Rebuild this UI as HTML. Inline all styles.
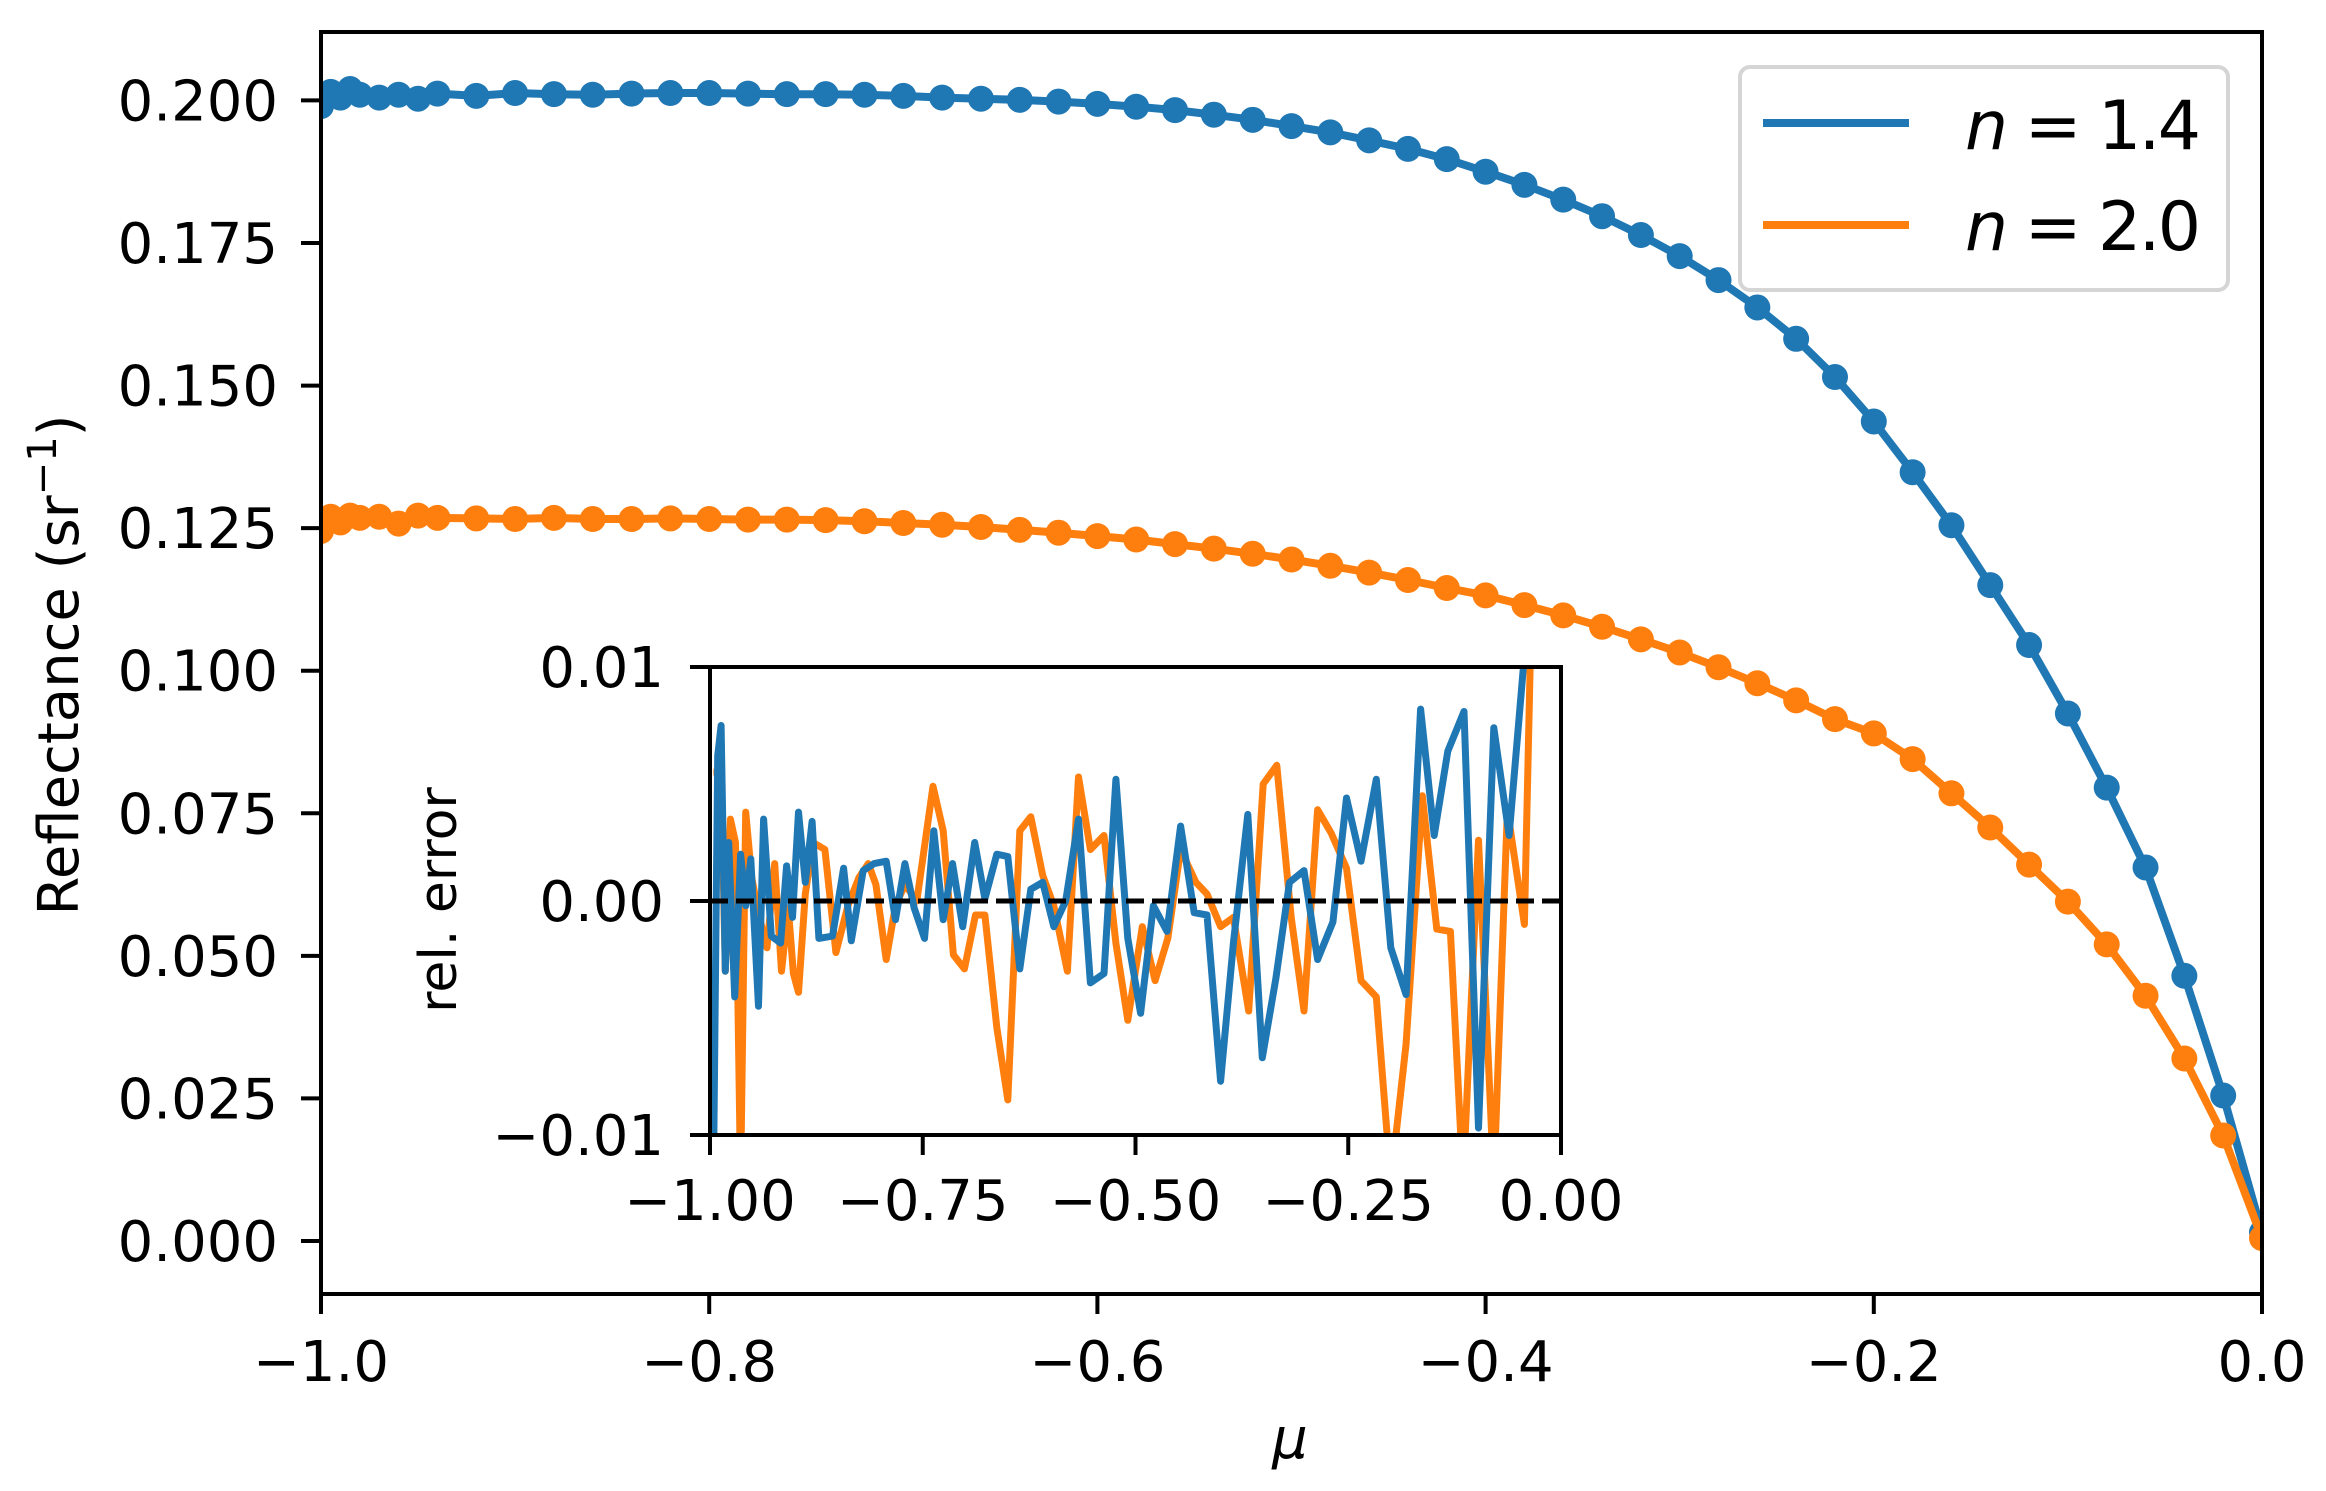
<!DOCTYPE html>
<html><head><meta charset="utf-8"><style>
html,body{margin:0;padding:0;background:#fff;}
svg{display:block;font-family:"DejaVu Sans","Liberation Sans",sans-serif;}
</style></head><body>
<svg id="chart" width="2326" height="1491" viewBox="0 0 2326 1491" xmlns="http://www.w3.org/2000/svg">
<rect width="2326" height="1491" fill="#fff"/>
<g id="main"></g>
<g id="inset"></g>
</svg>
<script>
// ---- main chart data ----
const mu = [-1.000,-0.998,-0.995,-0.99,-0.985,-0.98,-0.97,-0.96,-0.95,-0.94,-0.92,-0.90,-0.88,-0.86,-0.84,-0.82,-0.80,-0.78,-0.76,-0.74,-0.72,-0.70,-0.68,-0.66,-0.64,-0.62,-0.60,-0.58,-0.56,-0.54,-0.52,-0.50,-0.48,-0.46,-0.44,-0.42,-0.40,-0.38,-0.36,-0.34,-0.32,-0.30,-0.28,-0.26,-0.24,-0.22,-0.20,-0.18,-0.16,-0.14,-0.12,-0.10,-0.08,-0.06,-0.04,-0.02,0.0];
const reflN14 = [0.199,0.201,0.2015,0.2005,0.202,0.201,0.2005,0.201,0.2003,0.2012,0.2008,0.2013,0.2011,0.2010,0.2012,0.2013,0.2013,0.2012,0.2011,0.2011,0.2010,0.2008,0.2005,0.2003,0.2001,0.1998,0.1994,0.1989,0.1983,0.1975,0.1966,0.1955,0.1944,0.1930,0.1915,0.1897,0.1875,0.1852,0.1826,0.1797,0.1764,0.1727,0.1685,0.1637,0.1582,0.1515,0.1437,0.1348,0.1255,0.1150,0.1045,0.0925,0.0795,0.0655,0.0465,0.0255,0.0015];
const reflN20 = [0.1245,0.1265,0.127,0.126,0.1272,0.1268,0.127,0.1258,0.1272,0.1268,0.1267,0.1266,0.1268,0.1266,0.1266,0.1267,0.1266,0.1265,0.1265,0.1264,0.1262,0.1259,0.1256,0.1252,0.1247,0.1242,0.1236,0.1230,0.1222,0.1214,0.1205,0.1195,0.1184,0.1172,0.1159,0.1145,0.1132,0.1115,0.1097,0.1077,0.1055,0.1032,0.1006,0.0978,0.0948,0.0915,0.0890,0.0845,0.0785,0.0725,0.0660,0.0595,0.0520,0.0430,0.0320,0.0185,0.0005];
const yTicks = [0.000,0.025,0.050,0.075,0.100,0.125,0.150,0.175,0.200];
const yTickLabels = ["0.000","0.025","0.050","0.075","0.100","0.125","0.150","0.175","0.200"];
const xTicks = [-1.0,-0.8,-0.6,-0.4,-0.2,0.0];
const xTickLabels = ["\u22121.0","\u22120.8","\u22120.6","\u22120.4","\u22120.2","0.0"];
// ---- inset data (relative error, units of 1e-3) ----
const errMuN14 = [-1.0,-0.996,-0.991,-0.987,-0.982,-0.978,-0.971,-0.964,-0.958,-0.952,-0.943,-0.937,-0.928,-0.917,-0.910,-0.903,-0.896,-0.888,-0.880,-0.872,-0.856,-0.843,-0.834,-0.820,-0.807,-0.793,-0.782,-0.771,-0.760,-0.748,-0.737,-0.726,-0.715,-0.703,-0.689,-0.677,-0.663,-0.650,-0.636,-0.623,-0.609,-0.596,-0.582,-0.567,-0.553,-0.537,-0.523,-0.509,-0.494,-0.479,-0.463,-0.447,-0.431,-0.416,-0.400,-0.385,-0.368,-0.351,-0.335,-0.319,-0.302,-0.286,-0.268,-0.252,-0.235,-0.217,-0.200,-0.182,-0.165,-0.149,-0.133,-0.114,-0.097,-0.079,-0.061,-0.043];
const errN14 = [-12,-12,6.2,7.5,-3.0,2.5,-4.1,2.0,-0.2,1.8,-4.5,3.5,-1.5,-1.8,1.5,-0.7,3.8,0.8,3.4,-1.6,-1.5,1.4,-1.7,1.3,1.6,1.7,-0.8,1.6,-0.3,-1.6,3.0,-0.8,1.6,-1.1,2.5,0.1,2.0,1.9,-2.9,0.5,0.8,-1.1,0,3.5,-3.5,-3.1,5.2,-1.6,-4.8,-0.2,-1.3,3.2,-0.5,-0.6,-7.7,-1.8,3.7,-6.7,-3.3,0.8,1.3,-2.5,-0.9,4.4,1.7,5.2,-2.0,-4.0,8.2,2.8,6.4,8.1,-9.7,7.4,2.8,10.5];
const errMuN20 = [-0.996,-0.987,-0.982,-0.976,-0.970,-0.964,-0.958,-0.951,-0.942,-0.933,-0.924,-0.916,-0.908,-0.902,-0.896,-0.888,-0.879,-0.865,-0.852,-0.838,-0.825,-0.814,-0.805,-0.793,-0.782,-0.771,-0.757,-0.738,-0.726,-0.714,-0.701,-0.688,-0.677,-0.663,-0.650,-0.636,-0.623,-0.609,-0.596,-0.580,-0.567,-0.553,-0.537,-0.523,-0.509,-0.492,-0.477,-0.462,-0.447,-0.429,-0.416,-0.400,-0.385,-0.367,-0.350,-0.334,-0.317,-0.302,-0.286,-0.270,-0.252,-0.235,-0.217,-0.200,-0.182,-0.163,-0.146,-0.130,-0.115,-0.097,-0.079,-0.063,-0.043,-0.036];
const errN20 = [5.5,5.5,-3.0,3.5,2.5,-12,3.8,1.0,-0.7,-2.0,1.6,-3.0,-0.3,-3.1,-3.9,0.3,2.5,2.2,-2.2,-0.2,1.0,1.6,0.7,-2.5,-0.2,0.7,0,4.9,3.0,-2.3,-2.9,-0.6,-0.6,-5.4,-8.5,3.0,3.6,1.1,-0.2,-3.0,5.3,2.2,2.8,-1.8,-5.1,-1.1,-3.4,-1.6,2.2,0.8,0.3,-1.1,-0.7,-4.7,5.0,5.8,-0.7,-4.7,3.9,2.9,1.4,-3.4,-4.1,-12,-6.1,4.5,-1.2,-1.3,-12,2.6,-12,3.9,-1.0,10.5];
const insetYTicks = [-0.01,0.00,0.01];
const insetYTickLabels = ["\u22120.01","0.00","0.01"];
const insetXTicks = [-1.0,-0.75,-0.5,-0.25,0.0];
const insetXTickLabels = ["\u22121.00","\u22120.75","\u22120.50","\u22120.25","0.00"];

const NS="http://www.w3.org/2000/svg";
const BLUE="#1f77b4", ORANGE="#ff7f0e";
function mk(parent,tag,attrs,text){const e=document.createElementNS(NS,tag);for(const k in attrs)e.setAttribute(k,attrs[k]);if(text!==undefined)e.textContent=text;parent.appendChild(e);return e;}

// main axes geometry
const L=321,R=2262,T=32,B=1294;
const xMin=-1,xMax=0,yMin=-0.0093,yMax=0.2120;
const X=v=>L+(v-xMin)/(xMax-xMin)*(R-L);
const Y=v=>B-(v-yMin)/(yMax-yMin)*(B-T);
const main=document.getElementById('main');
const mcp=mk(main,'clipPath',{id:'mainclip'});mk(mcp,'rect',{x:L,y:T,width:R-L,height:B-T});

function series(parent,xs,ys,color,name,Xf,Yf,clip,markers,sw){
  const g=mk(parent,'g',{'clip-path':clip});
  
  
  const pts=xs.map((x,i)=>Xf(x).toFixed(1)+','+Yf(ys[i]).toFixed(1)).join(' ');
  const pl=mk(g,'polyline',{points:pts,fill:'none',stroke:color,'stroke-width':sw,'stroke-linejoin':'round'});
  
  
  if(markers){xs.forEach((x,i)=>{const c=mk(g,'circle',{cx:Xf(x),cy:Yf(ys[i]),r:13,fill:color});
    
    });}
}
series(main,mu,reflN14,BLUE,'series-n14',X,Y,'url(#mainclip)',true,8);
series(main,mu,reflN20,ORANGE,'series-n20',X,Y,'url(#mainclip)',true,8);

// main ticks
yTicks.forEach((v,i)=>{const y=Y(v);
  const t=mk(main,'line',{x1:L-20,x2:L,y1:y,y2:y,stroke:'#000','stroke-width':4});
  
  
  const lb=mk(main,'text',{x:278,y:y+20,'text-anchor':'end','font-size':56},yTickLabels[i]);
  
  });
xTicks.forEach((v,i)=>{const x=X(v);
  const t=mk(main,'line',{x1:x,x2:x,y1:B,y2:B+20,stroke:'#000','stroke-width':4});
  
  
  const lb=mk(main,'text',{x:x,y:1381,'text-anchor':'middle','font-size':56},xTickLabels[i]);
  
  });
const fr=mk(main,'rect',{x:L,y:T,width:R-L,height:B-T,fill:'none',stroke:'#000','stroke-width':4});


const xl=mk(main,'text',{x:1290,y:1458,'text-anchor':'middle','font-size':56,'font-style':'italic'},'\u03bc');


const yl=mk(main,'text',{x:0,y:0,'text-anchor':'middle','font-size':56,transform:'translate(78,665) rotate(-90)'});


yl.innerHTML='Reflectance (sr<tspan dy="-22" font-size="40">\u22121</tspan><tspan dy="22">)</tspan>';

// legend
const lg=mk(main,'g',{});


mk(lg,'rect',{x:1740,y:67,width:488,height:223,rx:10,fill:'#fff','fill-opacity':0.85,stroke:'#d5d5d5','stroke-width':4});
[[BLUE,123,'1.4',149],[ORANGE,225,'2.0',250]].forEach(([c,y,lab,by])=>{
  const e=mk(lg,'g',{});
  
  
  mk(e,'line',{x1:1763,x2:1909,y1:y,y2:y,stroke:c,'stroke-width':8});
  const t=mk(e,'text',{x:1965,y:by,'font-size':68,textLength:236,lengthAdjust:'spacing'});
  t.innerHTML='<tspan font-style="italic">n</tspan> = '+lab;
});

// inset
const iL=710,iR=1561,iT=667,iB=1135;
const IX=v=>iL+(v+1)*(iR-iL);
const IY=v=>iB-(v+0.01)/0.02*(iB-iT);
const inset=document.getElementById('inset');
mk(inset,'rect',{x:iL,y:iT,width:iR-iL,height:iB-iT,fill:'#fff'});
const icp=mk(inset,'clipPath',{id:'insetclip'});mk(icp,'rect',{x:iL,y:iT,width:iR-iL,height:iB-iT});
series(inset,errMuN20,errN20.map(v=>v/1000),ORANGE,'error-n20',IX,IY,'url(#insetclip)',false,7);
series(inset,errMuN14,errN14.map(v=>v/1000),BLUE,'error-n14',IX,IY,'url(#insetclip)',false,7);
const zl=mk(inset,'line',{x1:iL,x2:iR,y1:IY(0),y2:IY(0),stroke:'#000','stroke-width':5,'stroke-dasharray':'18 8'});


insetYTicks.forEach((v,i)=>{const y=IY(v);
  const t=mk(inset,'line',{x1:iL-20,x2:iL,y1:y,y2:y,stroke:'#000','stroke-width':4});
  
  
  const lb=mk(inset,'text',{x:664,y:y+20,'text-anchor':'end','font-size':56},insetYTickLabels[i]);
  
  });
insetXTicks.forEach((v,i)=>{const x=IX(v);
  const t=mk(inset,'line',{x1:x,x2:x,y1:iB,y2:iB+20,stroke:'#000','stroke-width':4});
  
  
  const lb=mk(inset,'text',{x:x,y:1220,'text-anchor':'middle','font-size':56},insetXTickLabels[i]);
  
  });
const ifr=mk(inset,'rect',{x:iL,y:iT,width:iR-iL,height:iB-iT,fill:'none',stroke:'#000','stroke-width':4});


const iyl=mk(inset,'text',{x:0,y:0,'text-anchor':'middle','font-size':52,transform:'translate(456,900) rotate(-90)'},'rel. error');


</script>
</body></html>
